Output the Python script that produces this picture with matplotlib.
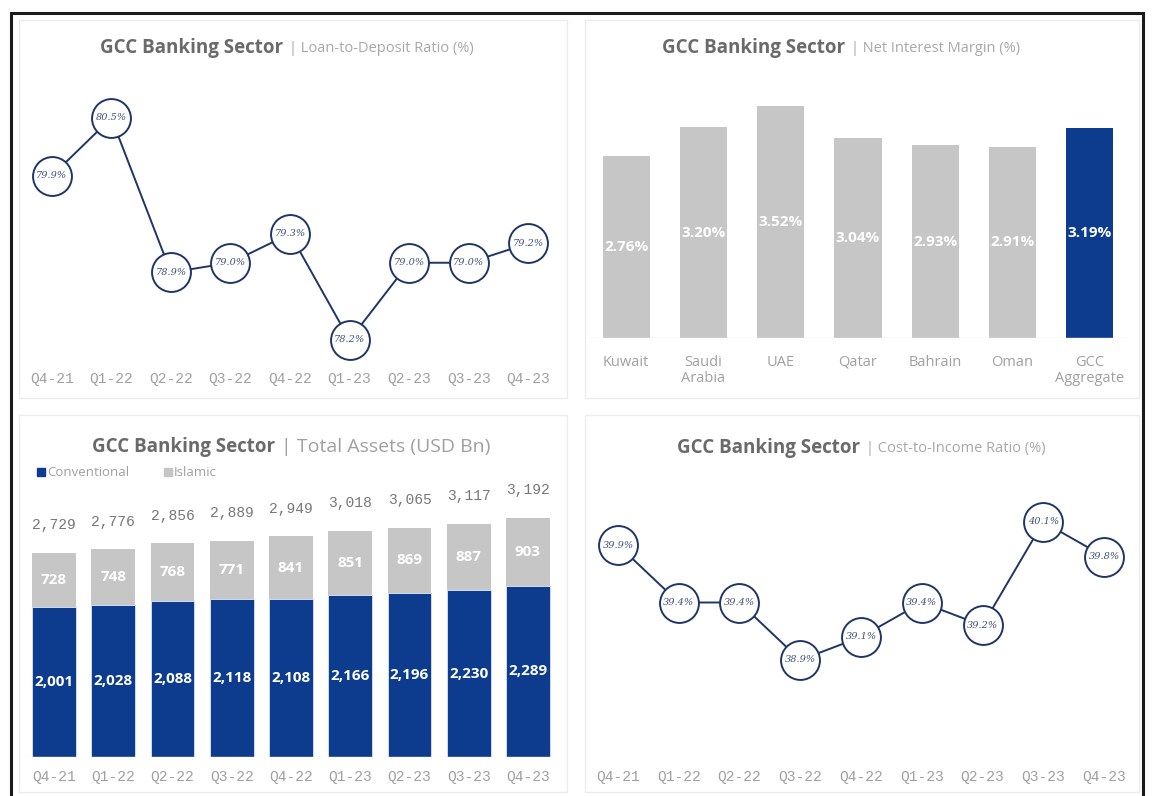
import matplotlib
matplotlib.use('Agg')
import numpy as np
import matplotlib.pyplot as plt
from matplotlib.patches import Rectangle

# %% data
quarters = ["Q4-21", "Q1-22", "Q2-22", "Q3-22", "Q4-22", "Q1-23", "Q2-23", "Q3-23", "Q4-23"]
ldr = [79.9, 80.5, 78.9, 79.0, 79.3, 78.2, 79.0, 79.0, 79.2]          # Loan-to-deposit ratio (%)
cir = [39.9, 39.4, 39.4, 38.9, 39.1, 39.4, 39.2, 40.1, 39.8]          # Cost-to-income ratio (%)

countries = ["Kuwait", "Saudi\nArabia", "UAE", "Qatar", "Bahrain", "Oman", "GCC\nAggregate"]
nim = [2.76, 3.20, 3.52, 3.04, 2.93, 2.91, 3.19]                      # Net interest margin (%)

conventional = [2001, 2028, 2088, 2118, 2108, 2166, 2196, 2230, 2289]
islamic = [728, 748, 768, 771, 841, 851, 869, 887, 903]
totals = [2729, 2776, 2856, 2889, 2949, 3018, 3065, 3117, 3192]

# %% style
W, H = 1157, 796
NAVY = '#0d3b8e'
LINE = '#1f3566'
GRAY_BAR = '#c6c6c6'
TICK_C = '#a0a0a0'
SANS = 'Open Sans'
MONO = 'Liberation Mono'

fig = plt.figure(figsize=(W/100, H/100), dpi=100)
renderer = fig.canvas.get_renderer()

def px_axes(x0, y0, x1, y1):
    # pixel box (top-left origin) -> figure axes
    ax = fig.add_axes([x0/W, 1 - y1/H, (x1 - x0)/W, (y1 - y0)/H])
    for s in ax.spines.values():
        s.set_visible(False)
    ax.set_yticks([])
    ax.tick_params(axis='x', length=0)
    ax.patch.set_alpha(0)
    return ax

def title2(x, y, a, b, sa, sb, cb):
    t = fig.text(x/W, 1 - y/H, a, fontsize=sa, fontweight='bold', color='#6a6a6a',
                 va='center', ha='left', family=SANS)
    bb = t.get_window_extent(renderer)
    fig.text((bb.x1 + 6)/W, 1 - y/H, '| ' + b, fontsize=sb, color=cb,
             va='center', ha='left', family=SANS)

# outer frame and panel boxes
fig.patches.append(Rectangle((11/W, 1 - 800/H), (1143 - 11)/W, (800 - 13)/H, transform=fig.transFigure,
                             fill=False, ec='#1a1a1a', lw=2.2))
for (x0, y0, x1, y1) in [(19, 20, 567, 398), (585, 20, 1139, 398), (19, 415, 567, 792), (585, 415, 1139, 792)]:
    fig.patches.append(Rectangle((x0/W, 1 - y1/H), (x1 - x0)/W, (y1 - y0)/H, transform=fig.transFigure,
                                 fill=False, ec='#ececec', lw=1.0))

def circle_line(ax, vals, labels_fmt):
    x = np.arange(len(vals))
    ax.plot(x, vals, color=LINE, lw=1.4, zorder=1)
    ax.plot(x, vals, 'o', ms=28, mfc='white', mec=LINE, mew=1.4, zorder=2)
    for xi, v in zip(x, vals):
        ax.text(xi, v, labels_fmt.format(v), ha='center', va='center', fontsize=7,
                style='italic', color='#3c4f78', family='DejaVu Serif', zorder=3)

# %% top-left: loan-to-deposit
ax1 = px_axes(22, 95, 558, 362)
circle_line(ax1, ldr, "{:.1f}%")
ax1.set_xlim(-0.5, 8.5)
ax1.set_ylim(80.5 - (362 - 118)/96.5, 80.5 + (118 - 95)/96.5)
ax1.set_xticks(range(len(quarters)), quarters, fontsize=10.5, color=TICK_C, family=MONO)
ax1.tick_params(axis='x', pad=7)
title2(100, 48, "GCC Banking Sector", "Loan-to-Deposit Ratio (%)", 13.5, 10.5, '#a8a8a8')

# %% top-right: net interest margin
ax2 = px_axes(587.5, 95, 1128.5, 338)
cols = [GRAY_BAR] * (len(nim) - 1) + [NAVY]
ax2.bar(range(len(nim)), nim, width=0.61, color=cols)
ax2.set_xlim(-0.5, 6.5)
ax2.set_ylim(0, 243/65.8)
ax2.axhline(0, color='#e6e6e6', lw=1.0)
for i, v in enumerate(nim):
    ax2.text(i, v/2, f"{v:.2f}%", ha='center', va='center', fontsize=11, fontweight='bold',
             color='white', family=SANS)
ax2.set_xticks(range(len(countries)), countries, fontsize=10.5, color=TICK_C, family=SANS,
               linespacing=1.15, va='top')
ax2.tick_params(axis='x', pad=12)
title2(662, 48, "GCC Banking Sector", "Net Interest Margin (%)", 13.5, 10.5, '#a8a8a8')

# %% bottom-left: total assets
ax3 = px_axes(24.4, 480, 557.6, 757)
xq = np.arange(len(quarters))
ax3.bar(xq, conventional, width=0.74, color=NAVY, edgecolor='#d9e6f5', lw=0.6)
ax3.bar(xq, islamic, bottom=conventional, width=0.74, color=GRAY_BAR, edgecolor='none')
ax3.set_xlim(-0.5, 8.5)
ax3.set_ylim(0, 277/0.0748)
ax3.axhline(0, color='#e6e6e6', lw=1.0)
for i in range(len(quarters)):
    ax3.text(i, conventional[i]/2, f"{conventional[i]:,}", ha='center', va='center', fontsize=11,
             fontweight='bold', color='white', family=SANS)
    ax3.text(i, conventional[i] + islamic[i]/2, f"{islamic[i]:,}", ha='center', va='center',
             fontsize=11, fontweight='bold', color='white', family=SANS)
    ax3.annotate(f"{totals[i]:,}", (i, totals[i]), xytext=(0, 20), textcoords='offset points',
                 ha='center', va='center', fontsize=10.5, color='#777777', family=MONO)
ax3.set_xticks(range(len(quarters)), quarters, fontsize=10.5, color=TICK_C, family=MONO)
ax3.tick_params(axis='x', pad=9)
title2(92, 447, "GCC Banking Sector", "Total Assets (USD Bn)", 13.5, 14, '#a0a0a0')

# legend
fig.patches.append(Rectangle((37/W, 1 - 476/H), 8/W, 8/H, transform=fig.transFigure, color=NAVY))
fig.text(47/W, 1 - 472/H, "Conventional", fontsize=9.5, color='#a0a0a0', va='center', family=SANS)
fig.patches.append(Rectangle((164/W, 1 - 476/H), 8/W, 8/H, transform=fig.transFigure, color=GRAY_BAR))
fig.text(174/W, 1 - 472/H, "Islamic", fontsize=9.5, color='#a0a0a0', va='center', family=SANS)

# %% bottom-right: cost-to-income
ax4 = px_axes(587.6, 495, 1134.4, 760)
circle_line(ax4, cir, "{:.1f}%")
ax4.set_xlim(-0.5, 8.5)
ax4.set_ylim(40.1 - (760 - 522)/115, 40.1 + (522 - 495)/115)
ax4.set_xticks(range(len(quarters)), quarters, fontsize=10.5, color=TICK_C, family=MONO)
ax4.tick_params(axis='x', pad=7)
title2(677, 448, "GCC Banking Sector", "Cost-to-Income Ratio (%)", 13.5, 10.5, '#a8a8a8')

fig.savefig('out.png', dpi=100)
